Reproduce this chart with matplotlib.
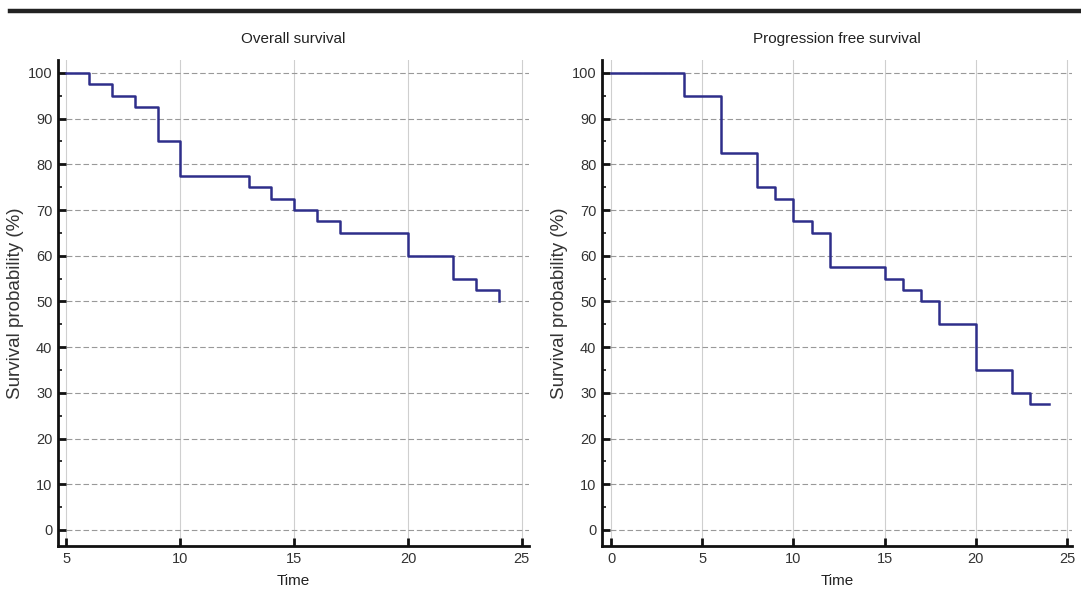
import matplotlib
matplotlib.use("Agg")
import matplotlib.pyplot as plt
from matplotlib.lines import Line2D
from matplotlib.ticker import MultipleLocator

# Overall survival (Kaplan-Meier steps)
os_time = [5, 6, 7, 8, 9, 10, 13, 14, 15, 16, 17, 20, 22, 23, 24]
os_surv = [100, 97.5, 95, 92.5, 85, 77.5, 75, 72.5, 70, 67.5, 65, 60, 55, 52.5, 50]

# Progression free survival
pfs_time = [0, 4, 6, 8, 9, 10, 11, 12, 15, 16, 17, 18, 20, 22, 23, 24]
pfs_surv = [100, 95, 82.5, 75, 72.5, 67.5, 65, 57.5, 55, 52.5, 50, 45, 35, 30, 27.5, 27.5]

titles = ["Overall survival", "Progression free survival"]
os_xticks = [5, 10, 15, 20, 25]
pfs_xticks = [0, 5, 10, 15, 20, 25]
yticks = [0, 10, 20, 30, 40, 50, 60, 70, 80, 90, 100]

narrow = ["Liberation Sans Narrow", "Liberation Sans", "DejaVu Sans"]
regular = ["Liberation Sans", "DejaVu Sans"]
line_color = "#2e2e8a"

fig = plt.figure(figsize=(10.81, 5.95), dpi=100)
ax1 = fig.add_axes([0.0537, 0.0824, 0.4353, 0.8166])
ax2 = fig.add_axes([0.5569, 0.0824, 0.4351, 0.8166])

fig.add_artist(Line2D([0.009, 1.0], [0.981, 0.981], color="#222222", lw=3.2,
                      transform=fig.transFigure))

def style(ax, title, xticks, xlim):
    ax.set_xlim(*xlim)
    ax.set_ylim(-3.5, 102.8)
    ax.set_xticks(xticks)
    ax.set_yticks(yticks)
    ax.yaxis.set_minor_locator(MultipleLocator(5))
    for s in ("top", "right"):
        ax.spines[s].set_visible(False)
    for s in ("left", "bottom"):
        ax.spines[s].set_linewidth(2.0)
        ax.spines[s].set_color("#111111")
    ax.tick_params(axis="both", which="major", direction="in", length=6, width=2.0,
                   color="#111111", labelsize=10.5, pad=4)
    ax.tick_params(axis="y", which="minor", direction="in", length=3, width=1.2,
                   color="#111111")
    for lab in ax.get_xticklabels() + ax.get_yticklabels():
        lab.set_family(narrow)
        lab.set_color("#333333")
    for t in xticks:
        ax.axvline(t, color="#cfcfcf", lw=0.8, zorder=0)
    for t in yticks:
        ax.axhline(t, color="#999999", lw=0.8, ls=(0, (5, 2.5)), zorder=0)
    ax.set_title(title, family=narrow, fontsize=11, color="#222222", pad=12)
    ax.set_xlabel("Time", family=narrow, fontsize=11, color="#222222", labelpad=6)
    ax.set_ylabel("Survival probability (%)", family=regular, fontsize=13.5,
                  color="#333333")
    ax.yaxis.set_label_coords(-0.072, 0.5)

style(ax1, titles[0], os_xticks, (4.63, 25.3))
style(ax2, titles[1], pfs_xticks, (-0.5, 25.3))

ax1.step(os_time, os_surv, where="post", color=line_color, lw=1.8, zorder=3)
ax2.step(pfs_time, pfs_surv, where="post", color=line_color, lw=1.8, zorder=3)

fig.savefig("out.png", dpi=100, facecolor="white")
